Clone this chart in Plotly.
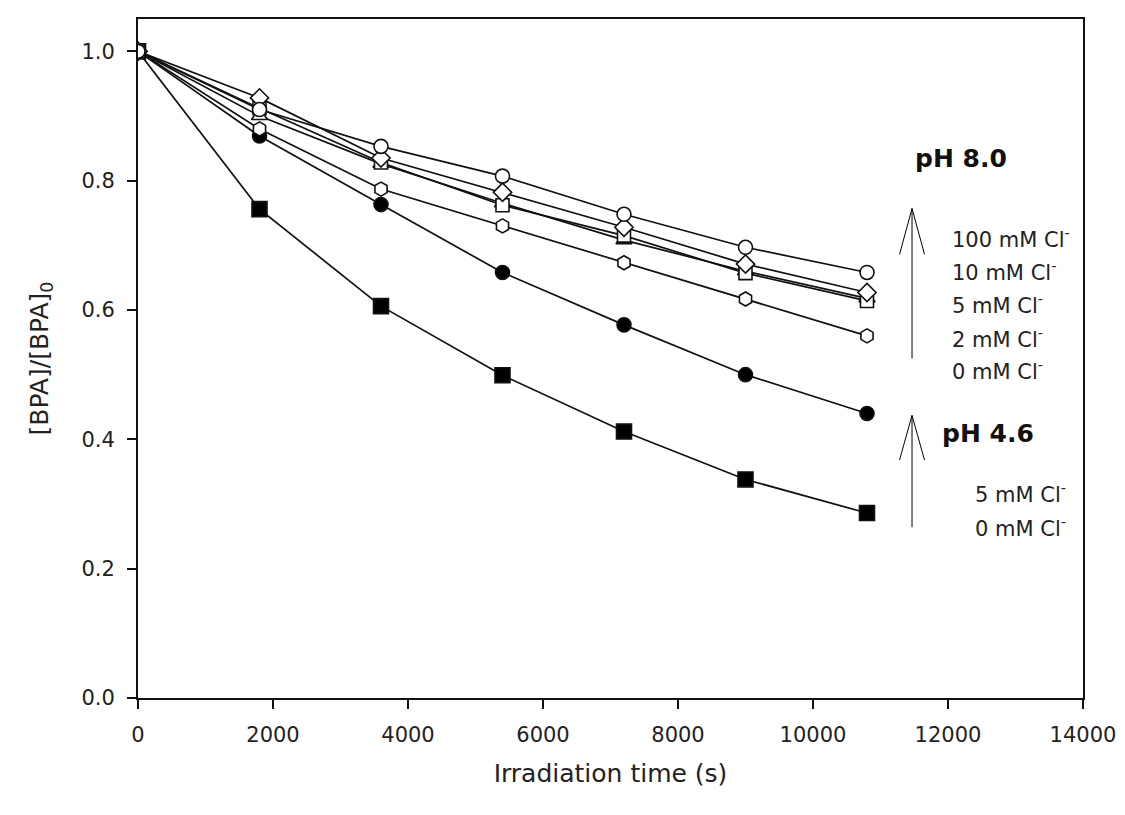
import plotly.graph_objects as go

time_s = [0, 1800, 3600, 5400, 7200, 9000, 10800]

ph46_0mM = [1.0, 0.756, 0.606, 0.499, 0.412, 0.338, 0.286]
ph46_5mM = [1.0, 0.869, 0.763, 0.658, 0.577, 0.500, 0.440]
ph80_0mM = [1.0, 0.880, 0.787, 0.730, 0.673, 0.617, 0.560]
ph80_2mM = [1.0, 0.900, 0.826, 0.765, 0.708, 0.660, 0.618]
ph80_5mM = [1.0, 0.912, 0.828, 0.762, 0.715, 0.657, 0.614]
ph80_10mM = [1.0, 0.928, 0.835, 0.782, 0.728, 0.671, 0.627]
ph80_100mM = [1.0, 0.910, 0.853, 0.807, 0.748, 0.697, 0.658]

series = [
    ("pH 4.6, 0 mM", ph46_0mM, "square", "black", 15),
    ("pH 4.6, 5 mM", ph46_5mM, "circle", "black", 14),
    ("pH 8.0, 0 mM", ph80_0mM, "hexagon", "white", 14),
    ("pH 8.0, 2 mM", ph80_2mM, "triangle-up", "white", 14),
    ("pH 8.0, 5 mM", ph80_5mM, "square", "white", 13),
    ("pH 8.0, 10 mM", ph80_10mM, "diamond", "white", 14),
    ("pH 8.0, 100 mM", ph80_100mM, "circle", "white", 14),
]

x_ticks = [0, 2000, 4000, 6000, 8000, 10000, 12000, 14000]
y_ticks = [0.0, 0.2, 0.4, 0.6, 0.8, 1.0]

labels_80 = ["100 mM Cl<sup>-</sup>", "10 mM Cl<sup>-</sup>", "5 mM Cl<sup>-</sup>",
             "2 mM Cl<sup>-</sup>", "0 mM Cl<sup>-</sup>"]
labels_80_y = [0.712, 0.661, 0.610, 0.556, 0.507]
labels_46 = ["5 mM Cl<sup>-</sup>", "0 mM Cl<sup>-</sup>"]
labels_46_y = [0.317, 0.264]

fig = go.Figure()
for name, vals, sym, fill, size in series:
    fig.add_trace(go.Scatter(
        x=time_s, y=vals, name=name, mode="lines+markers",
        line=dict(color="#111111", width=1.7),
        marker=dict(symbol=sym, size=size, color=fill,
                    line=dict(color="#111111", width=1.6)),
        showlegend=False,
    ))

font_family = "DejaVu Sans, Verdana, sans-serif"

# Arrows with thin open arrowheads, drawn as line shapes
arrow_x = 11467
arrows = [
    (0.525, 0.757, 0.686),
    (0.264, 0.437, 0.368),
]
for y0, y1, yb in arrows:
    fig.add_shape(type="line", x0=arrow_x, x1=arrow_x, y0=y0, y1=y1,
                  line=dict(color="black", width=1))
    fig.add_shape(type="line", x0=arrow_x, x1=arrow_x - 185, y0=y1, y1=yb,
                  line=dict(color="black", width=1))
    fig.add_shape(type="line", x0=arrow_x, x1=arrow_x + 185, y0=y1, y1=yb,
                  line=dict(color="black", width=1))

for t, yy in zip(labels_80, labels_80_y):
    fig.add_annotation(x=12025, y=yy, text=t, showarrow=False, xanchor="left",
                       font=dict(family=font_family, size=21, color="#222222"))
for t, yy in zip(labels_46, labels_46_y):
    fig.add_annotation(x=12366, y=yy, text=t, showarrow=False, xanchor="left",
                       font=dict(family=font_family, size=21, color="#222222"))

fig.add_annotation(x=11478, y=0.834, text="<b>pH 8.0</b>", showarrow=False, xanchor="left",
                   font=dict(family=font_family, size=25, color="#111111"))
fig.add_annotation(x=11877, y=0.409, text="<b>pH 4.6</b>", showarrow=False, xanchor="left",
                   font=dict(family=font_family, size=25, color="#111111"))

axis_common = dict(
    showline=True, linecolor="#111111", linewidth=2, mirror=True,
    ticks="outside", ticklen=9, tickwidth=2, tickcolor="#111111",
    showgrid=False, zeroline=False,
    tickfont=dict(family=font_family, size=21, color="#222222"),
)

fig.update_layout(
    width=1117, height=807,
    margin=dict(l=130, r=42, t=9, b=117),
    paper_bgcolor="white", plot_bgcolor="white",
    xaxis=dict(range=[0, 14000], tickvals=x_ticks, tickformat="d",
               ticklabelstandoff=8,
               title=dict(text="Irradiation time (s)", standoff=18,
                          font=dict(family=font_family, size=25, color="#222222")),
               **axis_common),
    yaxis=dict(range=[0, 1.05], tickvals=y_ticks, tickformat=".1f",
               ticklabelstandoff=8,
               title=dict(text="[BPA]/[BPA]<sub>0</sub>", standoff=26,
                          font=dict(family=font_family, size=25, color="#222222")),
               **axis_common),
)

fig.write_html("out.html")
